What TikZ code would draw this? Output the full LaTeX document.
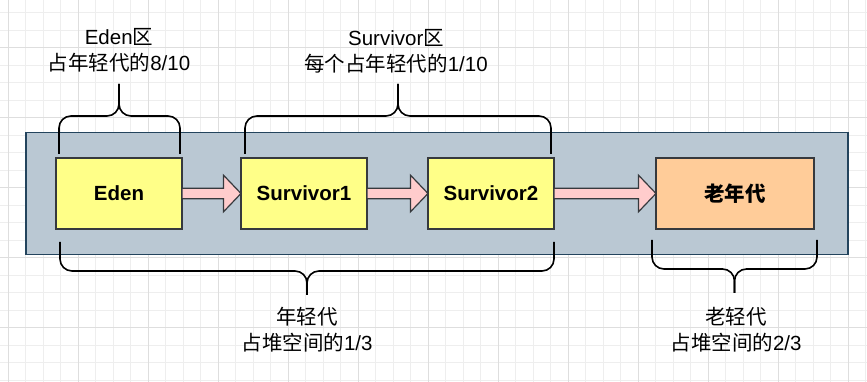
\documentclass[tikz,border=0pt]{standalone}
\usepackage{fontspec}
\setmainfont{Liberation Sans}
\newfontfamily\cjk{Noto Sans CJK SC}
\usetikzlibrary{positioning}
\definecolor{gridminor}{HTML}{EEEEEE}
\definecolor{gridmajor}{HTML}{DEDEDE}
\definecolor{heapfill}{HTML}{BAC8D3}
\definecolor{heapline}{HTML}{23445D}
\definecolor{younggen}{HTML}{FFFF88}
\definecolor{oldgen}{HTML}{FFCC99}
\definecolor{boxline}{HTML}{36393D}
\definecolor{movefill}{HTML}{FFCCCC}

\begin{document}
\begin{tikzpicture}[
    x=1pt, y=1pt,
    heap/.style={rectangle, draw=heapline, fill=heapfill, line width=1.5pt,
                 minimum width=822pt, minimum height=122pt, inner sep=0pt},
    area/.style={rectangle, draw=boxline, line width=1.5pt, minimum width=126pt,
                 minimum height=71pt, inner sep=0pt, outer sep=0pt,
                 font=\fontsize{20.5}{24}\selectfont\bfseries},
    fatarrow/.style={draw=boxline, fill=movefill, line width=1.2pt, line join=miter},
    brace/.style={draw=black, line width=1.6pt, rounded corners=12pt},
    note/.style={align=center, inner sep=0pt, anchor=base,
                 font=\fontsize{20.5}{26}\selectfont}
  ]
    \useasboundingbox (0,0) rectangle (867,382);
    \clip (0,0) rectangle (867,382);

    % background grid
    \foreach \i in {0,...,49}
      \draw[gridminor, line width=1pt] (8+17.5*\i,0) -- ++(0,382);
    \foreach \j in {0,...,21}
      \draw[gridminor, line width=1pt] (0,369-17.5*\j) -- ++(867,0);
    \foreach \i in {0,...,12}
      \draw[gridmajor, line width=1pt] (8+70*\i,0) -- ++(0,382);
    \foreach \j in {0,...,4}
      \draw[gridmajor, line width=1pt] (0,334-70*\j) -- ++(867,0);

    \node[heap] (heap) at (437,188.5) {};
    \node[area, fill=younggen] (eden) at (119,188.5) {Eden};
    \node[area, fill=younggen, right=59pt of eden] (surv1) {Survivor1};
    \node[area, fill=younggen, right=61pt of surv1] (surv2) {Survivor2};
    \node[area, fill=oldgen, minimum width=158pt, right=102pt of surv2] (old) {\cjk 老年代};

    \draw[fatarrow] ([yshift=5.3pt]eden.east) -- ([xshift=-17.5pt,yshift=5.3pt]surv1.west)
      -- ([xshift=-17.5pt,yshift=18.3pt]surv1.west) -- (surv1.west)
      -- ([xshift=-17.5pt,yshift=-18.3pt]surv1.west) -- ([xshift=-17.5pt,yshift=-5.3pt]surv1.west)
      -- ([yshift=-5.3pt]eden.east) -- cycle;
    \draw[fatarrow] ([yshift=5.3pt]surv1.east) -- ([xshift=-17.5pt,yshift=5.3pt]surv2.west)
      -- ([xshift=-17.5pt,yshift=18.3pt]surv2.west) -- (surv2.west)
      -- ([xshift=-17.5pt,yshift=-18.3pt]surv2.west) -- ([xshift=-17.5pt,yshift=-5.3pt]surv2.west)
      -- ([yshift=-5.3pt]surv1.east) -- cycle;
    \draw[fatarrow] ([yshift=5.3pt]surv2.east) -- ([xshift=-17.5pt,yshift=5.3pt]old.west)
      -- ([xshift=-17.5pt,yshift=18.3pt]old.west) -- (old.west)
      -- ([xshift=-17.5pt,yshift=-18.3pt]old.west) -- ([xshift=-17.5pt,yshift=-5.3pt]old.west)
      -- ([yshift=-5.3pt]surv2.east) -- cycle;

    % braces
    \draw[brace] (59,228) |- (119,266) -- (119,298);
    \draw[brace] (180,228) |- (119,266) -- (119,298);
    \draw[brace] (245,228) |- (398,266) -- (398,298);
    \draw[brace] (551,228) |- (398,266) -- (398,298);
    \draw[brace] (60,140) |- (307,111) -- (307,87);
    \draw[brace] (554,140) |- (307,111) -- (307,87);
    \draw[brace] (652,142) |- (734.5,113) -- (734.5,89);
    \draw[brace] (817,142) |- (734.5,113) -- (734.5,89);

    \node[note] (edennote) at (119,311) {Eden{\cjk 区}\\{\cjk 占年轻代的}8/10};
    \node[note] (survnote) at (396,310) {Survivor{\cjk 区}\\{\cjk 每个占年轻代的}1/10};
    \node[note] (youngnote) at (307,31) {{\cjk 年轻代}\\{\cjk 占堆空间的}1/3};
    \node[note] (oldnote) at (736,31) {{\cjk 老轻代}\\{\cjk 占堆空间的}2/3};
  \end{tikzpicture}
\end{document}
